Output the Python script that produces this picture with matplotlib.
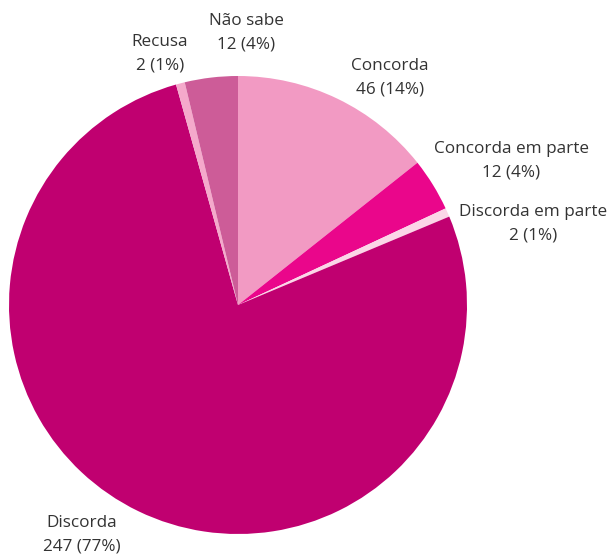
import matplotlib
matplotlib.use("Agg")
import matplotlib.pyplot as plt

categorias = ["Concorda", "Concorda em parte", "Discorda em parte", "Discorda", "Recusa", "Não sabe"]
valores = [46, 12, 2, 247, 2, 12]
cores = ["#f29ac3", "#ea068b", "#fbd6e7", "#c00070", "#f5a9cb", "#cd5c98"]

# posicoes dos rotulos (pixels, origem no topo)
pos_rotulos = [(390, 78), (511, 161), (533, 224), (82, 535), (160, 54), (246, 33)]

W, H = 610, 558
fig = plt.figure(figsize=(W / 100, H / 100), dpi=100)
ax = fig.add_axes([0, 0, 1, 1])

ax.pie(valores, colors=cores, startangle=90, counterclock=False,
       center=(238, H - 305), radius=229, frame=True,
       wedgeprops={"linewidth": 0})
ax.set_xlim(0, W)
ax.set_ylim(0, H)
ax.set_aspect("equal")
ax.axis("off")

total = sum(valores)
for nome, v, (x, y) in zip(categorias, valores, pos_rotulos):
    ax.text(x, H - y, f"{nome}\n{v} ({v / total * 100:.0f}%)", ha="center", va="center",
            fontsize=12.3, color="#333333", family="Open Sans", linespacing=1.6)

fig.savefig("out.png", dpi=100)
